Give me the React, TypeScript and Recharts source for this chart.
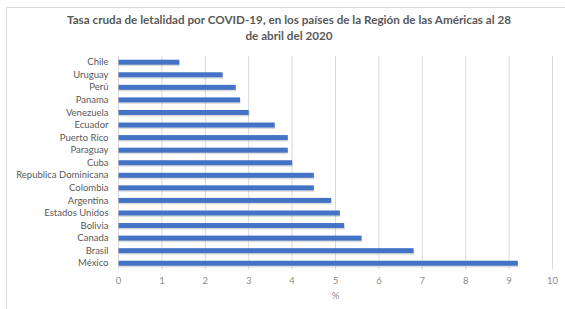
import React from "react";
import {
  Bar,
  BarChart,
  CartesianGrid,
  XAxis,
  YAxis,
} from "recharts";

const countries = [
  "Chile",
  "Uruguay",
  "Perú",
  "Panama",
  "Venezuela",
  "Ecuador",
  "Puerto Rico",
  "Paraguay",
  "Cuba",
  "Republica Dominicana",
  "Colombia",
  "Argentina",
  "Estados Unidos",
  "Bolivia",
  "Canada",
  "Brasil",
  "México",
];

const rates = [1.4, 2.4, 2.7, 2.8, 3.0, 3.6, 3.9, 3.9, 4.0, 4.5, 4.5, 4.9, 5.1, 5.2, 5.6, 6.8, 9.2];

const xTicks = [0, 1, 2, 3, 4, 5, 6, 7, 8, 9, 10];

const titleLines = [
  "Tasa cruda de letalidad por COVID-19, en los países de la Región de las Américas al 28",
  "de abril del 2020",
];

const data = countries.map((name, i) => ({ name, value: rates[i] }));

const FONT = "Lato, 'Open Sans', sans-serif";

const ShadowBar = (props: any) => {
  const { x, y, width, height } = props;
  if (!width || width <= 0) return null;
  return (
    <g>
      <rect x={x + 0.5} y={y + 1.5} width={width} height={height} fill="#9a9a9a" opacity={0.35} />
      <rect x={x} y={y} width={width} height={height} fill="#4472C4" />
    </g>
  );
};

// plain text tick so long names don't wrap
const CountryTick = (props: any) => {
  const { x, y, payload } = props;
  return (
    <text
      x={x}
      y={y}
      dy="0.355em"
      textAnchor="end"
      fontSize={9.5}
      fill="#595959"
      fontFamily={FONT}
    >
      {payload.value}
    </text>
  );
};

const App: React.FC = () => {
  return (
    <div
      style={{
        position: "absolute",
        left: 0,
        top: 0,
        width: 565,
        height: 309,
        background: "#fff",
        fontFamily: FONT,
      }}
    >
      <div
        style={{
          position: "absolute",
          left: 6,
          top: 7,
          width: 580,
          height: 320,
          borderLeft: "1px solid #d9d9d9",
          borderTop: "1px solid #d9d9d9",
          boxSizing: "border-box",
        }}
      />
      <div
        style={{
          position: "absolute",
          left: 39,
          top: 11,
          width: 500,
          textAlign: "center",
          fontSize: 11.7,
          lineHeight: "16px",
          fontWeight: 700,
          color: "#595959",
          whiteSpace: "nowrap",
        }}
      >
        {titleLines.map((line) => (
          <div key={line}>{line}</div>
        ))}
      </div>
      <div style={{ position: "absolute", left: 0, top: 0 }}>
        <BarChart
          width={565}
          height={309}
          data={data}
          layout="vertical"
          margin={{ top: 55.7, right: 12.5, bottom: 9.7, left: 8.5 }}
          barSize={5}
        >
          <CartesianGrid horizontal={false} stroke="#d9d9d9" />
          <XAxis
            type="number"
            domain={[0, 10]}
            ticks={xTicks}
            axisLine={false}
            tickLine={false}
            height={30}
            tick={{ fontSize: 9.5, fill: "#8c8c8c", fontFamily: FONT }}
            label={{
              value: "%",
              position: "insideBottom",
              offset: 0,
              fontSize: 9.5,
              fill: "#8c8c8c",
              fontFamily: FONT,
            }}
          />
          <YAxis
            type="category"
            dataKey="name"
            width={110}
            axisLine={false}
            tickLine={false}
            tickMargin={4}
            interval={0}
            tick={<CountryTick />}
          />
          <Bar dataKey="value" shape={ShadowBar} isAnimationActive={false} />
        </BarChart>
      </div>
    </div>
  );
};

export default App;
